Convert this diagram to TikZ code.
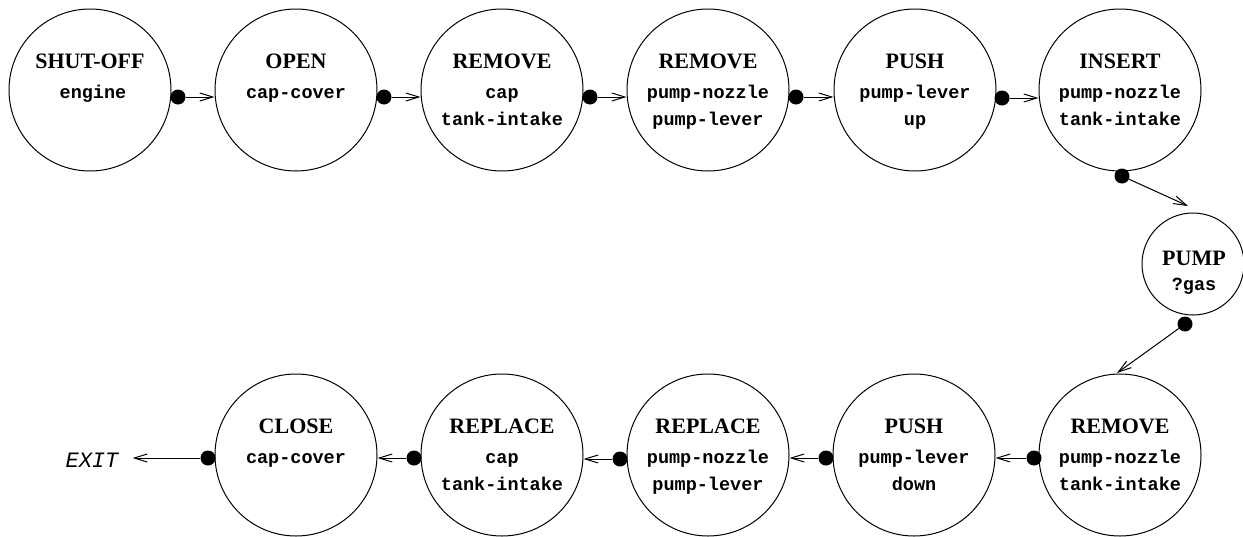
\documentclass[tikz,border=0pt]{standalone}
\usepackage{fontspec}
\setmainfont{Liberation Serif}
\newfontfamily\monof{Liberation Mono}
\usetikzlibrary{calc,arrows.meta}
\tikzset{
  statebox/.style={circle, draw, line width=1pt, minimum size=162pt, inner sep=0pt},
  smallstate/.style={circle, draw, line width=1pt, minimum size=102pt, inner sep=0pt},
  dotn/.style={circle, fill, inner sep=0pt, minimum size=15pt},
  arr/.style={line width=1pt, -{Straight Barb[length=13pt,width=8pt,line width=1pt]}},
  ttl/.style={font=\bfseries\fontsize{22}{24}\selectfont, anchor=base, inner sep=0pt},
  mono/.style={font=\monof\bfseries\fontsize{18.5}{20}\selectfont, anchor=base, inner sep=0pt},
  exitf/.style={font=\monof\itshape\fontsize{22}{24}\selectfont, inner sep=0pt},
}
\begin{document}
\begin{tikzpicture}[x=1pt,y=-1pt]
\useasboundingbox (0,0) rectangle (1243,536);
% top row
\node[statebox] (s1) at (90,90) {};
\node[statebox] (s2) at (296,90) {};
\node[statebox] (s3) at (502,90) {};
\node[statebox] (s4) at (708,90) {};
\node[statebox] (s5) at (915,90) {};
\node[statebox] (s6) at (1120,90) {};
\node[smallstate] (p) at (1193,264) {};
% bottom row
\node[statebox] (b1) at (1120,455) {};
\node[statebox] (b2) at (914,455) {};
\node[statebox] (b3) at (708,455) {};
\node[statebox] (b4) at (502,455) {};
\node[statebox] (b5) at (296,455) {};
% texts
\node[ttl] (s1t) at ($(s1)+(0,-22)$) {SHUT-OFF};
\node[mono] (s1a) at ($(s1)+(3,8)$) {engine};
\node[ttl] (s2t) at ($(s2)+(0,-22)$) {OPEN};
\node[mono] (s2a) at ($(s2)+(0,8)$) {cap-cover};
\node[ttl] (s3t) at ($(s3)+(0,-22)$) {REMOVE};
\node[mono] (s3a) at ($(s3)+(0,8)$) {cap};
\node[mono] (s3b) at ($(s3)+(0,35)$) {tank-intake};
\node[ttl] (s4t) at ($(s4)+(0,-22)$) {REMOVE};
\node[mono] (s4a) at ($(s4)+(0,8)$) {pump-nozzle};
\node[mono] (s4b) at ($(s4)+(0,35)$) {pump-lever};
\node[ttl] (s5t) at ($(s5)+(0,-22)$) {PUSH};
\node[mono] (s5a) at ($(s5)+(0,8)$) {pump-lever};
\node[mono] (s5b) at ($(s5)+(0,35)$) {up};
\node[ttl] (s6t) at ($(s6)+(0,-22)$) {INSERT};
\node[mono] (s6a) at ($(s6)+(0,8)$) {pump-nozzle};
\node[mono] (s6b) at ($(s6)+(0,35)$) {tank-intake};
\node[ttl] (pt) at ($(p)+(1,1)$) {PUMP};
\node[mono] (pa) at ($(p)+(1,26)$) {?gas};
\node[ttl] (b1t) at ($(b1)+(0,-22)$) {REMOVE};
\node[mono] (b1a) at ($(b1)+(0,8)$) {pump-nozzle};
\node[mono] (b1b) at ($(b1)+(0,35)$) {tank-intake};
\node[ttl] (b2t) at ($(b2)+(0,-22)$) {PUSH};
\node[mono] (b2a) at ($(b2)+(0,8)$) {pump-lever};
\node[mono] (b2b) at ($(b2)+(0,35)$) {down};
\node[ttl] (b3t) at ($(b3)+(0,-22)$) {REPLACE};
\node[mono] (b3a) at ($(b3)+(0,8)$) {pump-nozzle};
\node[mono] (b3b) at ($(b3)+(0,35)$) {pump-lever};
\node[ttl] (b4t) at ($(b4)+(0,-22)$) {REPLACE};
\node[mono] (b4a) at ($(b4)+(0,8)$) {cap};
\node[mono] (b4b) at ($(b4)+(0,35)$) {tank-intake};
\node[ttl] (b5t) at ($(b5)+(0,-22)$) {CLOSE};
\node[mono] (b5a) at ($(b5)+(0,8)$) {cap-cover};
\node[exitf] (exit) at (92,460) {EXIT};
% dots
\node[dotn] (d1) at ($(s1)+(88,7)$) {};
\node[dotn] (d2) at ($(s2)+(88,7)$) {};
\node[dotn] (d3) at ($(s3)+(88,7)$) {};
\node[dotn] (d4) at ($(s4)+(88,7)$) {};
\node[dotn] (d5) at ($(s5)+(87,8)$) {};
\node[dotn] (d6) at ($(s6)+(2,86)$) {};
\node[dotn] (d7) at ($(p)+(-8,60)$) {};
\node[dotn] (d8) at ($(b1)+(-86,3)$) {};
\node[dotn] (d9) at ($(b2)+(-88,3)$) {};
\node[dotn] (d10) at ($(b3)+(-88,4)$) {};
\node[dotn] (d11) at ($(b4)+(-88,3)$) {};
\node[dotn] (d12) at ($(b5)+(-88,3)$) {};
\coordinate (t6) at (1188,206);
\coordinate (t7) at (1117,373);
% connectors
\draw[arr] (d1) -- (d1 -| s2.west);
\draw[arr] (d2) -- (d2 -| s3.west);
\draw[arr] (d3) -- (d3 -| s4.west);
\draw[arr] (d4) -- (d4 -| s5.west);
\draw[arr] (d5) -- (d5 -| s6.west);
\draw[arr] (d6) -- (t6);
\draw[arr] (d7) -- (t7);
\draw[arr] (d8) -- (d8 -| b2.east);
\draw[arr] (d9) -- (d9 -| b3.east);
\draw[arr] (d10) -- (d10 -| b4.east);
\draw[arr] (d11) -- (d11 -| b5.east);
\draw[arr, shorten >=14pt] (d12) -- (d12 -| exit.east);
\end{tikzpicture}
\end{document}
